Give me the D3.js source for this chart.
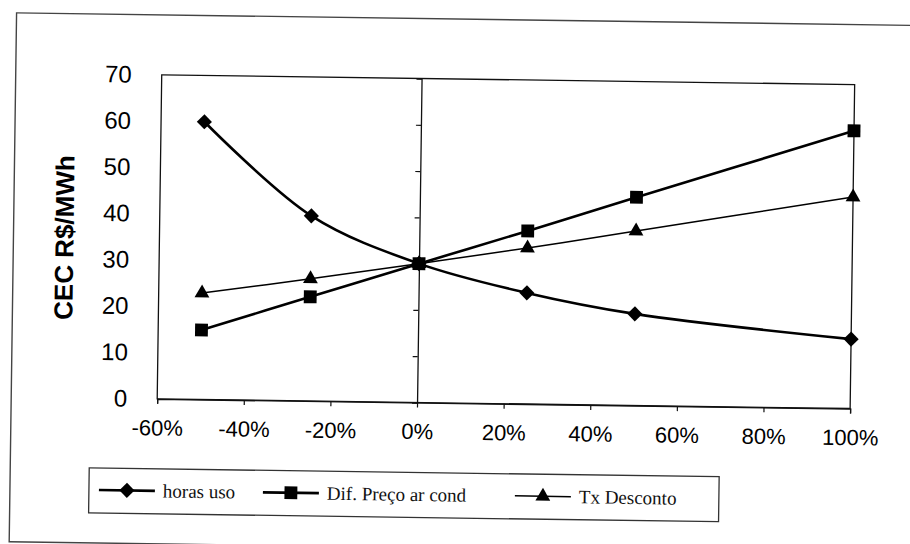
<!DOCTYPE html>
<html>
<head>
<meta charset="utf-8">
<script src="https://cdn.jsdelivr.net/npm/d3@7"></script>
<style>
  html, body { margin: 0; padding: 0; background: #fff; }
  svg { display: block; }
</style>
</head>
<body>
<svg id="chart" width="910" height="544"></svg>
<script>
// Sensitivity of CEC (R$/MWh) to parameter variation
const variation = [-50, -25, 0, 25, 50, 100];
const horasUso = [60, 40, 30, 24, 19.8, 15];
const difPrecoArCond = [15, 22.5, 30, 37.4, 45, 60];
const txDesconto = [23, 26.4, 30, 33.7, 37.7, 45.7];
const xTickValues = [-60, -40, -20, 0, 20, 40, 60, 80, 100];
const yTickValues = [0, 10, 20, 30, 40, 50, 60, 70];
const seriesNames = ["horas uso", "Dif. Preço ar cond", "Tx Desconto"];

const svg = d3.select("#chart");
const root = svg.append("g").attr("transform", "rotate(0.8, 455, 272)");

const plot = { left: 159, right: 852, top: 79, bottom: 403 };
const x = d3.scaleLinear().domain([-60, 100]).range([plot.left, plot.right]);
const y = d3.scaleLinear().domain([0, 70]).range([plot.bottom, plot.top]);

// outer chart frame
root.append("rect")
  .attr("x", 13).attr("y", 19).attr("width", 905).attr("height", 529)
  .attr("fill", "none").attr("stroke", "#444").attr("stroke-width", 1.4);

// plot area border
root.append("rect")
  .attr("x", plot.left).attr("y", plot.top)
  .attr("width", plot.right - plot.left).attr("height", plot.bottom - plot.top)
  .attr("fill", "none").attr("stroke", "#111").attr("stroke-width", 1.3);

// x axis along the bottom
const xAxis = root.append("g")
  .attr("transform", `translate(0,${plot.bottom})`)
  .call(d3.axisBottom(x).tickValues(xTickValues).tickSize(5).tickPadding(16)
    .tickFormat(d => d + "%"));
xAxis.select(".domain").attr("stroke", "#111").attr("stroke-width", 1.3);
xAxis.selectAll(".tick line").attr("stroke", "#111").attr("stroke-width", 1.2);
xAxis.selectAll(".tick text")
  .attr("font-family", "Liberation Sans, Arial, sans-serif")
  .attr("font-size", 22).attr("fill", "#000");

// value axis crossing at 0%
const yAxis = root.append("g")
  .attr("transform", `translate(${x(0)},0)`)
  .call(d3.axisLeft(y).tickValues(yTickValues).tickSize(5).tickFormat(""));
yAxis.select(".domain").attr("stroke", "#111").attr("stroke-width", 1.3);
yAxis.selectAll(".tick line").attr("stroke", "#111").attr("stroke-width", 1.2);

// value labels at the left side
const yLabels = root.append("g")
  .attr("transform", "translate(129,0)")
  .call(d3.axisLeft(y).tickValues(yTickValues).tickSize(0).tickPadding(0));
yLabels.select(".domain").remove();
yLabels.selectAll(".tick text")
  .attr("font-family", "Liberation Sans, Arial, sans-serif")
  .attr("font-size", 24).attr("fill", "#000");

// axis title
root.append("text")
  .attr("transform", "translate(64,243) rotate(-90)")
  .attr("text-anchor", "middle").attr("dominant-baseline", "central")
  .attr("font-family", "Liberation Sans, Arial, sans-serif")
  .attr("font-weight", "bold").attr("font-size", 26)
  .text("CEC R$/MWh");

const series = [
  { name: seriesNames[0], values: horasUso, width: 2.6, shape: "diamond" },
  { name: seriesNames[1], values: difPrecoArCond, width: 2.6, shape: "square" },
  { name: seriesNames[2], values: txDesconto, width: 1.5, shape: "triangle" }
];

function markerPath(shape) {
  if (shape === "diamond") return d3.symbol(d3.symbolSquare, 115)();
  if (shape === "square") return d3.symbol(d3.symbolSquare, 165)();
  return d3.symbol(d3.symbolTriangle, 95)();
}
function markerRotation(shape) { return shape === "diamond" ? 45 : 0; }

const line = d3.line()
  .x(d => x(d[0])).y(d => y(d[1]))
  .curve(d3.curveCatmullRom.alpha(0.5));

series.forEach(s => {
  const pts = variation.map((v, i) => [v, s.values[i]]);
  root.append("path")
    .attr("d", line(pts))
    .attr("fill", "none").attr("stroke", "#000")
    .attr("stroke-width", s.width).attr("stroke-linejoin", "round");
  root.append("g").selectAll("path")
    .data(pts).join("path")
    .attr("d", markerPath(s.shape))
    .attr("transform", d => `translate(${x(d[0])},${y(d[1])}) rotate(${markerRotation(s.shape)})`)
    .attr("fill", "#000");
});

// legend
const legend = root.append("g");
legend.append("rect")
  .attr("x", 92).attr("y", 473).attr("width", 630).attr("height", 45)
  .attr("fill", "none").attr("stroke", "#333").attr("stroke-width", 1.3);

const legendItems = [
  { lineX: 102, textX: 166 },
  { lineX: 266, textX: 330 },
  { lineX: 518, textX: 582 }
];
series.forEach((s, i) => {
  const it = legendItems[i];
  const g = legend.append("g").attr("transform", `translate(0,495)`);
  g.append("line")
    .attr("x1", it.lineX).attr("x2", it.lineX + 56)
    .attr("y1", 0).attr("y2", 0)
    .attr("stroke", "#000").attr("stroke-width", s.width);
  g.append("path")
    .attr("d", markerPath(s.shape))
    .attr("transform", `translate(${it.lineX + 28},0) rotate(${markerRotation(s.shape)})`)
    .attr("fill", "#000");
  g.append("text")
    .attr("x", it.textX).attr("y", 0)
    .attr("dominant-baseline", "central")
    .attr("font-family", "Liberation Serif, Times New Roman, serif")
    .attr("font-size", 19).attr("fill", "#111")
    .text(s.name);
});
</script>
</body>
</html>
